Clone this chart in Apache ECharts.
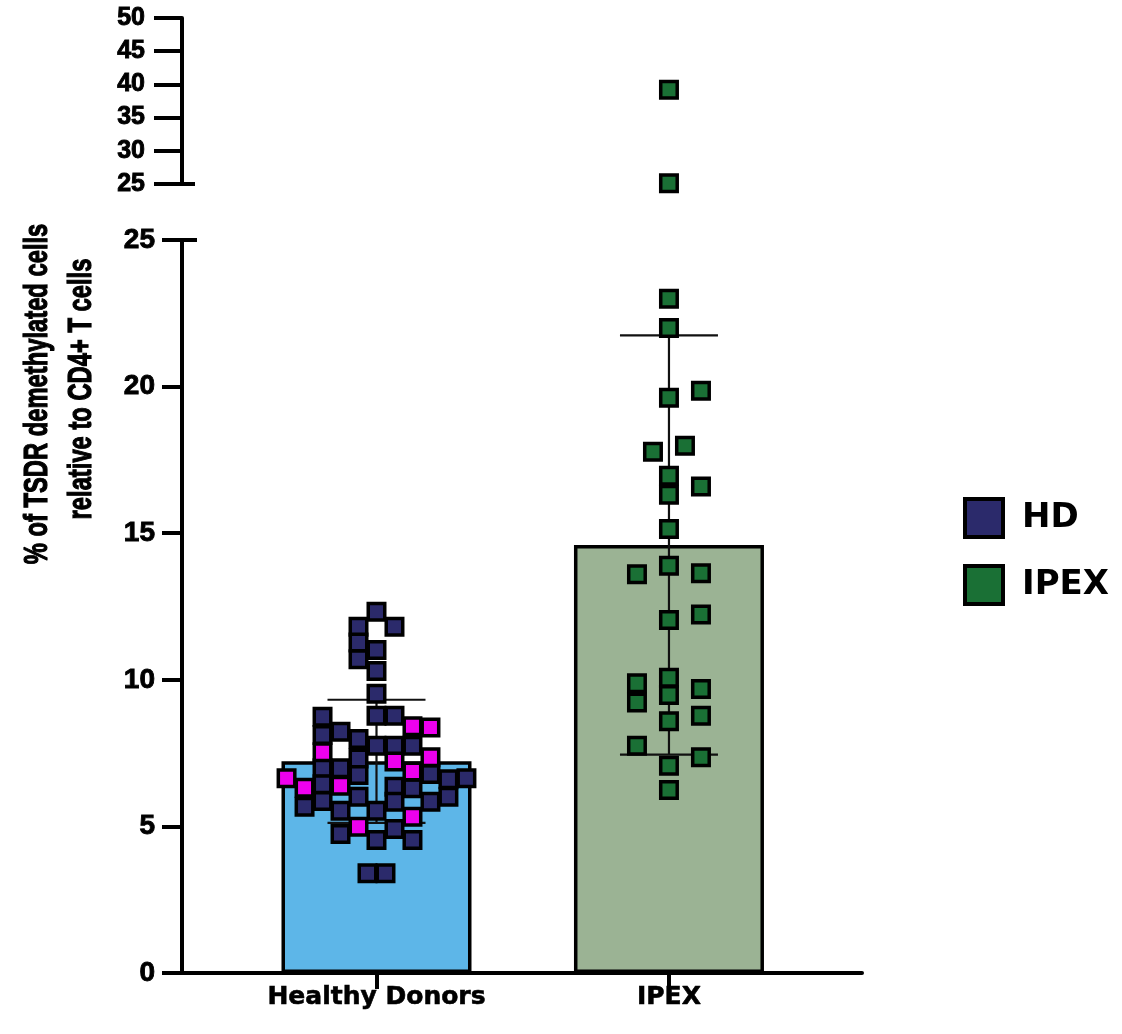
<!DOCTYPE html>
<html>
<head>
<meta charset="utf-8">
<script src="https://cdn.jsdelivr.net/npm/echarts@6/dist/echarts.min.js"></script>
<style>
html,body{margin:0;padding:0;background:#fff;}
#main{width:1122px;height:1034px;}
</style>
</head>
<body>
<div id="main"></div>
<script>
// ---- data ----
const categories = ['Healthy Donors', 'IPEX'];
const lowerTicks = [0, 5, 10, 15, 20, 25];
const upperTicks = [25, 30, 35, 40, 45, 50];
// bar means and SD
const means = [7.22, 14.6];
const sds = [2.1, 7.15];
// Healthy donors (dark points): values and beeswarm column
const hdNavyVals = [12.32, 11.81, 11.81, 11.27, 11.02, 10.70, 10.30, 9.52, 8.74, 8.77, 8.77, 8.23, 8.12, 7.98, 7.75, 7.75, 7.75, 7.32, 6.98, 6.98, 6.75, 6.79, 6.61, 6.64, 6.44, 6.35, 6.30, 5.87, 6.01, 5.84, 5.84, 6.01, 5.67, 5.53, 5.53, 4.91, 4.74, 4.54, 4.54, 3.40, 3.40];
const hdNavyCols = [0, -1, 1, -1, 0, -1, 0, 0, -3, 0, 1, -2, -3, -1, 0, 1, 2, -1, -3, -2, -1, 3, 4, 5, -3, 1, 2, -3, -1, 1, 3, 4, -4, -2, 0, 1, -2, 0, 2, -0.5, 0.5];
// Healthy donors (magenta points)
const hdMagVals = [8.42, 8.37, 7.53, 7.36, 7.21, 6.87, 6.64, 6.32, 6.39, 5.33, 4.99];
const hdMagCols = [2, 3, -3, 3, 1, 2, -5, -4, -2, 2, -1];
// IPEX points
const ipexVals = [39.2, 25.1, 23.0, 22.0, 19.62, 19.86, 17.78, 17.98, 16.96, 16.31, 16.59, 15.14, 13.89, 13.60, 13.63, 12.23, 12.04, 10.07, 9.48, 9.88, 9.23, 9.69, 8.77, 8.59, 7.75, 7.36, 7.07, 6.24];
const ipexCols = [0, 0, 0, 0, 0, 2, -1, 1, 0, 0, 2, 0, 0, -2, 2, 2, 0, 0, 0, -2, -2, 2, 2, 0, -2, 2, 0, 0];

// ---- build ----
const HD_STEP = 0.0615, IPEX_STEP = 0.0547;
const BREAK = 25;
const hdNavy = hdNavyVals.map((v, i) => [1 + hdNavyCols[i] * HD_STEP, v]);
const hdMag = hdMagVals.map((v, i) => [1 + hdMagCols[i] * HD_STEP, v]);
const ipexAll = ipexVals.map((v, i) => [2 + ipexCols[i] * IPEX_STEP, v]);
const ipexLow = ipexAll.filter(d => d[1] <= BREAK);
const ipexHigh = ipexAll.filter(d => d[1] > BREAK);

const FONT = 'DejaVu Sans';
const LFONT = 'Liberation Sans';
const markerStyle = (c) => ({ color: c, borderColor: '#000', borderWidth: 3.5, opacity: 1 });
const yLabel = (size, margin) => ({
  fontFamily: LFONT, fontWeight: 'bold', fontSize: size, color: '#000', margin: margin,
  textBorderColor: '#000', textBorderWidth: 0.9
});

const chart = echarts.init(document.getElementById('main'), null, { renderer: 'canvas' });

const option = {
  animation: false,
  backgroundColor: '#fff',
  grid: [
    { left: 182, right: 260, top: 240, bottom: 61 },
    { left: 182, right: 260, top: 18, height: 166 }
  ],
  xAxis: [
    {
      gridIndex: 0, type: 'value', min: 0.335, max: 2.66,
      axisLine: { show: true, onZero: false, lineStyle: { color: '#000', width: 4 } },
      axisTick: { show: true, customValues: [1, 2], length: 16, lineStyle: { color: '#000', width: 4 } },
      axisLabel: {
        customValues: [1, 2],
        formatter: v => categories[Math.round(v) - 1],
        fontFamily: FONT, fontWeight: 'bold', fontSize: 25, color: '#000', margin: 12,
        textBorderColor: '#000', textBorderWidth: 0.6
      },
      splitLine: { show: false }
    },
    { gridIndex: 1, type: 'value', min: 0.335, max: 2.66, show: false }
  ],
  yAxis: [
    {
      gridIndex: 0, type: 'value', min: lowerTicks[0], max: lowerTicks[lowerTicks.length - 1], interval: 5,
      axisLine: { show: true, lineStyle: { color: '#000', width: 4 } },
      axisTick: { show: true, length: 20, lineStyle: { color: '#000', width: 4 } },
      axisLabel: yLabel(28, 27),
      splitLine: { show: false }
    },
    {
      gridIndex: 1, type: 'value', min: upperTicks[0], max: upperTicks[upperTicks.length - 1], interval: 5,
      axisLine: { show: true, lineStyle: { color: '#000', width: 4 } },
      axisTick: { show: true, length: 28, lineStyle: { color: '#000', width: 4 } },
      axisLabel: yLabel(25, 37),
      splitLine: { show: false }
    }
  ],
  legend: {
    data: ['HD', 'IPEX'],
    orient: 'vertical',
    left: 958, top: 492,
    icon: 'rect',
    itemWidth: 38, itemHeight: 38, itemGap: 25,
    itemStyle: { borderWidth: 4, borderColor: '#000' },
    textStyle: { fontFamily: FONT, fontWeight: 'bold', fontSize: 34, color: '#000', padding: [0, 0, 0, 14] },
    selectedMode: false
  },
  series: [
    {
      type: 'bar', xAxisIndex: 0, yAxisIndex: 0, barWidth: 190, z: 1,
      data: [
        { value: [1, means[0]], itemStyle: { color: '#5DB6E8' } },
        { value: [2, means[1]], itemStyle: { color: '#9BB394' } }
      ],
      itemStyle: { borderColor: '#000', borderWidth: 3.5 }
    },
    {
      type: 'custom', xAxisIndex: 0, yAxisIndex: 0, z: 2,
      data: [[1, means[0], sds[0]], [2, means[1], sds[1]]],
      renderItem: function (params, api) {
        const x = api.value(0), m = api.value(1), s = api.value(2);
        const top = api.coord([x, m + s]);
        const bot = api.coord([x, m - s]);
        const hw = 49;
        const st = { stroke: '#111', lineWidth: 2.2 };
        return {
          type: 'group',
          children: [
            { type: 'line', shape: { x1: top[0], y1: top[1], x2: bot[0], y2: bot[1] }, style: st },
            { type: 'line', shape: { x1: top[0] - hw, y1: top[1], x2: top[0] + hw, y2: top[1] }, style: st },
            { type: 'line', shape: { x1: bot[0] - hw, y1: bot[1], x2: bot[0] + hw, y2: bot[1] }, style: st }
          ]
        };
      }
    },
    {
      name: 'HD', type: 'scatter', xAxisIndex: 0, yAxisIndex: 0, z: 3,
      symbol: 'rect', symbolSize: 16.5, data: hdNavy, itemStyle: markerStyle('#2B2A6B')
    },
    {
      name: 'HD magenta', type: 'scatter', xAxisIndex: 0, yAxisIndex: 0, z: 3,
      symbol: 'rect', symbolSize: 16.5, data: hdMag, itemStyle: markerStyle('#EE00EE')
    },
    {
      name: 'IPEX', type: 'scatter', xAxisIndex: 0, yAxisIndex: 0, z: 3,
      symbol: 'rect', symbolSize: 16.5, data: ipexLow, itemStyle: markerStyle('#1A7035')
    },
    {
      name: 'IPEX', type: 'scatter', xAxisIndex: 1, yAxisIndex: 1, z: 3,
      symbol: 'rect', symbolSize: 16.5, data: ipexHigh, itemStyle: markerStyle('#1A7035')
    }
  ]
};
chart.setOption(option);

// axis-break caps and y-axis title
const ax = chart.convertToPixel({ xAxisIndex: 0 }, 0.335);
const yLowTop = chart.convertToPixel({ yAxisIndex: 0 }, BREAK);
const yUpBot = chart.convertToPixel({ yAxisIndex: 1 }, BREAK);
const capStyle = { stroke: '#000', lineWidth: 4 };
const titleFont = 'bold 33px "Liberation Sans", Arial, sans-serif';
const titleStyle = (t) => ({ text: t, font: titleFont, fill: '#000', stroke: '#000', lineWidth: 1.2, textAlign: 'center', textVerticalAlign: 'middle' });
chart.setOption({
  graphic: [
    { type: 'line', shape: { x1: ax - 14, y1: yLowTop, x2: ax + 15, y2: yLowTop }, style: capStyle, z: 10 },
    { type: 'line', shape: { x1: ax - 12, y1: yUpBot, x2: ax + 13, y2: yUpBot }, style: capStyle, z: 10 },
    { type: 'text', x: 38, y: 394, rotation: Math.PI / 2, scaleX: 0.72, style: titleStyle('% of TSDR demethylated cells') },
    { type: 'text', x: 82, y: 389, rotation: Math.PI / 2, scaleX: 0.72, style: titleStyle('relative to CD4+ T cells') }
  ]
});
</script>
</body>
</html>
